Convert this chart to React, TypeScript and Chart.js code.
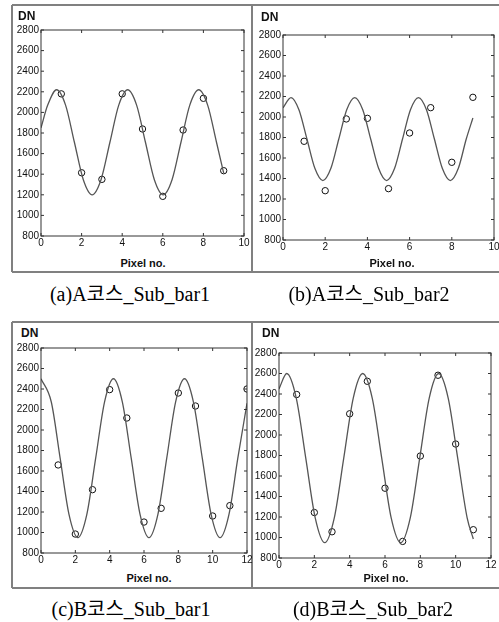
import React, { useEffect, useRef } from "react";
import { Chart, registerables } from "chart.js";
Chart.register(...registerables);

// ---- (a) A코스_Sub_bar1 ----
const aPixels = [1, 2, 3, 4, 5, 6, 7, 8, 9];
const aPointDN = [2180, 1414, 1350, 2180, 1839, 1185, 1829, 2137, 1434];
const aCurveX = [0, 0.33, 0.77, 1.21, 1.645, 2.08, 2.52, 2.96, 3.395, 3.83, 4.27, 4.71, 5.145, 5.58, 6.02, 6.46, 6.895, 7.33, 7.77, 8.21, 8.645, 9];
const aCurveDN = [1850, 2071, 2220, 2071, 1710, 1349, 1200, 1349, 1710, 2071, 2220, 2071, 1710, 1349, 1200, 1349, 1710, 2071, 2220, 2071, 1710, 1410];

// ---- (b) A코스_Sub_bar2 ----
const bPixels = [1, 2, 3, 4, 5, 6, 7, 8, 9];
const bPointDN = [1763, 1281, 1981, 1987, 1301, 1844, 2091, 1558, 2192];
const bCurveX = [0, 0.38, 0.755, 1.135, 1.51, 1.89, 2.27, 2.645, 3.02, 3.4, 3.78, 4.155, 4.53, 4.91, 5.29, 5.665, 6.04, 6.42, 6.8, 7.175, 7.55, 7.93, 8.31, 8.685, 9];
const bCurveDN = [2090, 2190, 2071, 1785, 1499, 1380, 1499, 1785, 2071, 2190, 2071, 1785, 1499, 1380, 1499, 1785, 2071, 2190, 2071, 1785, 1499, 1380, 1499, 1785, 1990];

// ---- (c) B코스_Sub_bar1 ----
const cPixels = [1, 2, 3, 4, 5, 6, 7, 8, 9, 10, 11, 12];
const cPointDN = [1659, 985, 1418, 2394, 2117, 1102, 1236, 2361, 2234, 1161, 1262, 2400];
const cCurveX = [0, 0.6, 1.115, 1.63, 2.15, 2.67, 3.185, 3.7, 4.22, 4.74, 5.255, 5.77, 6.29, 6.81, 7.325, 7.84, 8.36, 8.88, 9.395, 9.91, 10.43, 10.95, 11.465, 12];
const cCurveDN = [2500, 2273, 1725, 1177, 950, 1177, 1725, 2273, 2500, 2273, 1725, 1177, 950, 1177, 1725, 2273, 2500, 2273, 1725, 1177, 950, 1177, 1725, 2260];

// ---- (d) B코스_Sub_bar2 ----
const dPixels = [1, 2, 3, 4, 5, 6, 7, 8, 9, 10, 11];
const dPointDN = [2395, 1244, 1056, 2207, 2524, 1481, 962, 1795, 2583, 1912, 1076];
const dCurveX = [0, 0.44, 0.98, 1.515, 2.05, 2.59, 3.13, 3.665, 4.2, 4.74, 5.28, 5.815, 6.35, 6.89, 7.43, 7.965, 8.5, 9.04, 9.58, 10.115, 10.65, 11];
const dCurveDN = [2450, 2600, 2358, 1775, 1192, 950, 1192, 1775, 2358, 2600, 2358, 1775, 1192, 950, 1192, 1775, 2358, 2600, 2358, 1775, 1192, 985];

// axis ranges / labels
const yMin = 800;
const yMax = 2800;
const yStep = 200;
const xStep = 2;
const yLabel = "DN";
const xLabel = "Pixel no.";
const captions = ["(a)A코스_Sub_bar1", "(b)A코스_Sub_bar2", "(c)B코스_Sub_bar1", "(d)B코스_Sub_bar2"];

const Y_W = 32;
const X_H = 16;
const PAD_T = 8;
const PAD_R = 8;
const SANS = '"Liberation Sans", Arial, sans-serif';

type PanelProps = {
  xs: number[];
  ys: number[];
  cx: number[];
  cy: number[];
  xMax: number;
  l: number;
  t: number;
  r: number;
  b: number;
};

function Panel({ xs, ys, cx, cy, xMax, l, t, r, b }: PanelProps) {
  const ref = useRef<HTMLCanvasElement>(null);
  const w = r - l + Y_W + PAD_R;
  const h = b - t + PAD_T + X_H;
  useEffect(() => {
    const boxTicks = {
      id: "boxTicks",
      afterDatasetsDraw(chart: any) {
        const ctx = chart.ctx;
        const a = chart.chartArea;
        const sx = chart.scales.x;
        const sy = chart.scales.y;
        ctx.save();
        ctx.strokeStyle = "#333";
        ctx.lineWidth = 1;
        ctx.strokeRect(a.left, a.top, a.right - a.left, a.bottom - a.top);
        const tl = 3;
        ctx.beginPath();
        sx.ticks.forEach((tk: any) => {
          const px = sx.getPixelForValue(tk.value);
          ctx.moveTo(px, a.bottom);
          ctx.lineTo(px, a.bottom - tl);
          ctx.moveTo(px, a.top);
          ctx.lineTo(px, a.top + tl);
        });
        sy.ticks.forEach((tk: any) => {
          const py = sy.getPixelForValue(tk.value);
          ctx.moveTo(a.left, py);
          ctx.lineTo(a.left + tl, py);
          ctx.moveTo(a.right, py);
          ctx.lineTo(a.right - tl, py);
        });
        ctx.stroke();
        ctx.restore();
      },
    };
    const chart = new Chart(ref.current as HTMLCanvasElement, {
      type: "scatter",
      data: {
        datasets: [
          {
            data: cx.map((x, i) => ({ x, y: cy[i] })),
            showLine: true,
            pointRadius: 0,
            borderColor: "#555",
            borderWidth: 1.3,
            cubicInterpolationMode: "monotone",
            fill: false,
          } as any,
          {
            data: xs.map((x, i) => ({ x, y: ys[i] })),
            showLine: false,
            pointRadius: 3.2,
            pointBorderColor: "#111",
            pointBackgroundColor: "rgba(255,255,255,0)",
            pointBorderWidth: 1,
          } as any,
        ],
      },
      options: {
        animation: false,
        responsive: false,
        maintainAspectRatio: false,
        layout: { padding: { top: PAD_T, right: PAD_R, left: 0, bottom: 0 } },
        plugins: { legend: { display: false }, tooltip: { enabled: false } },
        scales: {
          x: {
            type: "linear",
            min: 0,
            max: xMax,
            ticks: { stepSize: xStep, padding: 1, maxRotation: 0, color: "#111", font: { family: SANS, size: 10 }, callback: (v: any) => String(v) },
            grid: { display: false, drawTicks: false },
            border: { display: false },
            afterFit: (s: any) => {
              s.height = X_H;
            },
          },
          y: {
            type: "linear",
            min: yMin,
            max: yMax,
            ticks: { stepSize: yStep, padding: 2, color: "#111", font: { family: SANS, size: 10 }, callback: (v: any) => String(v) },
            grid: { display: false, drawTicks: false },
            border: { display: false },
            afterFit: (s: any) => {
              s.width = Y_W;
            },
          },
        },
      } as any,
      plugins: [boxTicks],
    });
    return () => chart.destroy();
  }, []);
  return (
    <canvas
      ref={ref}
      width={w}
      height={h}
      style={{ position: "absolute", left: l - Y_W, top: t - PAD_T, width: w, height: h }}
    />
  );
}

const LINE = "#808080";
function HLine({ x1, x2, y }: { x1: number; x2: number; y: number }) {
  return <div style={{ position: "absolute", left: x1, top: y - 0.75, width: x2 - x1, height: 1.5, background: LINE }} />;
}
function VLine({ x, y1, y2 }: { x: number; y1: number; y2: number }) {
  return <div style={{ position: "absolute", left: x - 0.75, top: y1, width: 1.5, height: y2 - y1, background: LINE }} />;
}

function DN({ x, y }: { x: number; y: number }) {
  return (
    <div style={{ position: "absolute", left: x, top: y - 7, lineHeight: "14px", fontFamily: SANS, fontWeight: "bold", fontSize: 12, color: "#111", whiteSpace: "nowrap" }}>
      {yLabel}
    </div>
  );
}
function XTitle({ x, y }: { x: number; y: number }) {
  return (
    <div style={{ position: "absolute", left: x, top: y - 7, lineHeight: "14px", transform: "translateX(-50%)", fontFamily: SANS, fontWeight: "bold", fontSize: 11, color: "#111", whiteSpace: "nowrap" }}>
      {xLabel}
    </div>
  );
}
function Caption({ x, y, text }: { x: number; y: number; text: string }) {
  return (
    <div style={{ position: "absolute", left: x, top: y - 12, lineHeight: "24px", transform: "translateX(-50%)", fontFamily: '"Liberation Serif", "Times New Roman", "Noto Sans CJK KR", serif', fontSize: 20, color: "#000", whiteSpace: "nowrap" }}>
      {text}
    </div>
  );
}

export default function App() {
  return (
    <div style={{ position: "absolute", left: 0, top: 0, width: 499, height: 622, overflow: "hidden", background: "#fff" }}>
      {/* frames */}
      <HLine x1={12} x2={499} y={5} />
      <HLine x1={12} x2={499} y={272} />
      <VLine x={12} y1={5} y2={272} />
      <VLine x={252} y1={5} y2={272} />
      <HLine x1={12} x2={499} y={322} />
      <HLine x1={12} x2={499} y={588} />
      <VLine x={12} y1={322} y2={588} />
      <VLine x={252} y1={322} y2={588} />

      <Panel xs={aPixels} ys={aPointDN} cx={aCurveX} cy={aCurveDN} xMax={10} l={41} t={30} r={244} b={236} />
      <Panel xs={bPixels} ys={bPointDN} cx={bCurveX} cy={bCurveDN} xMax={10} l={283} t={34.5} r={494} b={239.5} />
      <Panel xs={cPixels} ys={cPointDN} cx={cCurveX} cy={cCurveDN} xMax={12} l={41} t={348} r={247} b={553} />
      <Panel xs={dPixels} ys={dPointDN} cx={dCurveX} cy={dCurveDN} xMax={12} l={279} t={353} r={491} b={558} />

      <DN x={18} y={16} />
      <DN x={261} y={17} />
      <DN x={21} y={333} />
      <DN x={262} y={333} />

      <XTitle x={143} y={263} />
      <XTitle x={392} y={263} />
      <XTitle x={149} y={578} />
      <XTitle x={386} y={578} />

      <Caption x={130} y={294} text={captions[0]} />
      <Caption x={369} y={294} text={captions[1]} />
      <Caption x={131} y={609} text={captions[2]} />
      <Caption x={373} y={609} text={captions[3]} />
    </div>
  );
}
